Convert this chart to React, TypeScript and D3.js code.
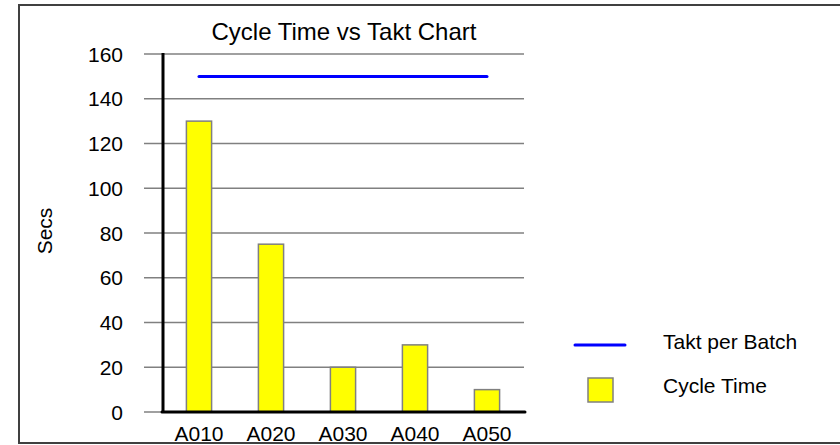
import { useEffect, useRef } from "react";
import * as d3 from "d3";

const stations = ["A010", "A020", "A030", "A040", "A050"];
const cycleTime = [130, 75, 20, 30, 10];
const taktPerBatch = [150, 150, 150, 150, 150];
const yTicks = [0, 20, 40, 60, 80, 100, 120, 140, 160];

export default function App() {
  const svgRef = useRef<SVGSVGElement>(null);

  useEffect(() => {
    const svg = d3.select(svgRef.current);
    svg.selectAll("*").remove();
    const font = "Liberation Sans, Arial, sans-serif";

    // frame
    svg.append("rect")
      .attr("x", 19).attr("y", 5)
      .attr("width", 840).attr("height", 438)
      .attr("fill", "white")
      .attr("stroke", "#404040")
      .attr("stroke-width", 2);

    const x = d3.scaleBand().domain(stations).range([163, 523]).paddingInner(0.65).paddingOuter(0.325);
    const y = d3.scaleLinear().domain([0, 160]).range([412, 54]);

    // gridlines + tick labels
    const grid = svg.append("g");
    grid.selectAll("line").data(yTicks).join("line")
      .attr("x1", 144).attr("x2", 524)
      .attr("y1", d => y(d)).attr("y2", d => y(d))
      .attr("stroke", "#808080").attr("stroke-width", 1.5);
    grid.selectAll("text").data(yTicks).join("text")
      .attr("x", 123).attr("y", d => y(d))
      .attr("dy", "0.36em")
      .attr("text-anchor", "end")
      .style("font-family", font).style("font-size", "21px")
      .text(d => d);

    // bars
    svg.append("g").selectAll("rect").data(cycleTime).join("rect")
      .attr("x", (_, i) => x(stations[i])!)
      .attr("width", x.bandwidth())
      .attr("y", d => y(d))
      .attr("height", d => y(0) - y(d))
      .attr("fill", "#ffff00")
      .attr("stroke", "#808080").attr("stroke-width", 1.5);

    // axes
    svg.append("line")
      .attr("x1", 163).attr("x2", 163).attr("y1", y(160) - 1).attr("y2", y(0))
      .attr("stroke", "black").attr("stroke-width", 3);
    svg.append("line")
      .attr("x1", 162).attr("x2", 525).attr("y1", y(0)).attr("y2", y(0))
      .attr("stroke", "black").attr("stroke-width", 3).attr("stroke-linecap", "round");

    svg.append("g").selectAll("text").data(stations).join("text")
      .attr("x", d => x(d)! + x.bandwidth() / 2)
      .attr("y", 441)
      .attr("text-anchor", "middle")
      .style("font-family", font).style("font-size", "21px")
      .text(d => d);

    // takt line
    const line = d3.line<number>()
      .x((_, i) => x(stations[i])! + x.bandwidth() / 2)
      .y(d => y(d));
    svg.append("path")
      .datum(taktPerBatch)
      .attr("d", line)
      .attr("fill", "none")
      .attr("stroke", "#0000ff").attr("stroke-width", 3).attr("stroke-linecap", "round");

    // title and y label
    svg.append("text")
      .attr("x", 344).attr("y", 40)
      .attr("text-anchor", "middle")
      .style("font-family", font).style("font-size", "24px")
      .text("Cycle Time vs Takt Chart");
    svg.append("text")
      .attr("transform", "translate(52, 231) rotate(-90)")
      .attr("text-anchor", "middle")
      .style("font-family", font).style("font-size", "21px")
      .text("Secs");

    // legend
    const legend = svg.append("g");
    legend.append("line")
      .attr("x1", 575).attr("x2", 625).attr("y1", 345).attr("y2", 345)
      .attr("stroke", "#0000ff").attr("stroke-width", 3).attr("stroke-linecap", "round");
    legend.append("text")
      .attr("x", 663).attr("y", 349)
      .style("font-family", font).style("font-size", "21px")
      .text("Takt per Batch");
    legend.append("rect")
      .attr("x", 588).attr("y", 378).attr("width", 25).attr("height", 24)
      .attr("fill", "#ffff00")
      .attr("stroke", "#808080").attr("stroke-width", 1.5);
    legend.append("text")
      .attr("x", 663).attr("y", 393)
      .style("font-family", font).style("font-size", "21px")
      .text("Cycle Time");
  }, []);

  return (
    <svg ref={svgRef} width={840} height={445}
      style={{ position: "absolute", left: 0, top: 0 }}></svg>
  );
}
